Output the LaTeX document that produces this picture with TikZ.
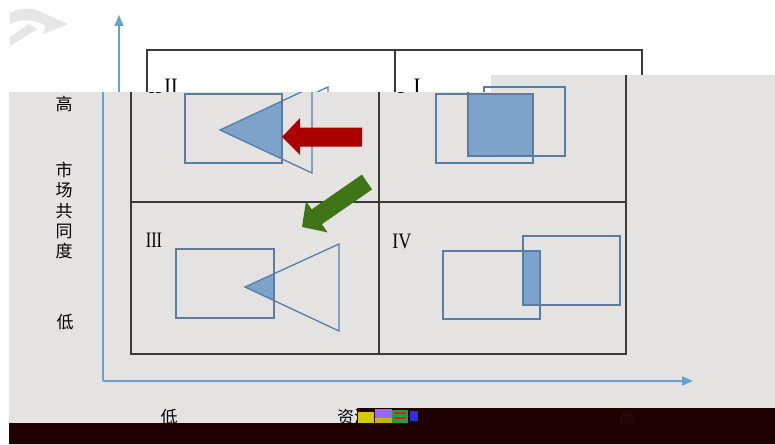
\documentclass[tikz,border=0pt]{standalone}
\usepackage{graphicx}
\usepackage{fontspec}
\newfontfamily\cjk{Noto Sans CJK SC}
\newfontfamily\romanfont{Liberation Serif}
\usetikzlibrary{arrows.meta}
\definecolor{bggrey}{HTML}{E4E3E2}
\definecolor{darkband}{HTML}{1E0000}
\definecolor{gridc}{HTML}{3A3A3A}
\definecolor{axisc}{HTML}{6A9FD3}
\definecolor{shapec}{HTML}{5A7DA5}
\definecolor{fillc}{HTML}{7DA3CA}
\definecolor{redarrow}{HTML}{AA0000}
\definecolor{greenarrow}{HTML}{3F7417}
\definecolor{logoc}{HTML}{E6E6E6}
\definecolor{fainttext}{HTML}{2E0B0B}
\definecolor{glyellow}{HTML}{D8C800}
\definecolor{glpurple}{HTML}{9966FF}
\definecolor{glochre}{HTML}{C8B400}
\definecolor{glgreen}{HTML}{1FA040}
\definecolor{glred}{HTML}{E02020}
\definecolor{glblue}{HTML}{3030E0}
\tikzset{
  gridline/.style={draw=gridc, line width=1.6pt},
  axisline/.style={draw=axisc, line width=1.5pt, -{Triangle[width=9pt,length=11pt]}},
  shapeline/.style={draw=shapec, line width=1.3pt, line join=miter},
  overlapfill/.style={fill=fillc},
  roman/.style={font=\romanfont\fontsize{22}{22}\selectfont, text=black, inner sep=0pt},
  cjklabel/.style={font=\cjk\fontsize{17}{20.3}\selectfont, text=black, inner sep=0pt, align=center},
}
\newcommand\quaddiagram{%
  \coordinate (G1) at (131,50); \coordinate (G2) at (626,354);
  \coordinate (MT) at (379,50); \coordinate (MB) at (379,354);
  \coordinate (ML) at (131,202); \coordinate (MR) at (626,202);
  \draw[gridline] (G1) rectangle (G2);
  \draw[gridline] (MT) -- (MB);
  \draw[gridline] (ML) -- (MR);
  \coordinate (O) at (103,381); \coordinate (YT) at (103,15); \coordinate (XT) at (693,381);
  \draw[axisline] (O) -- (YT);
  \draw[axisline] (O) -- (XT);
  % quadrant II
  \begin{scope}
    \clip (185,94) rectangle (282,163);
    \fill[overlapfill] (220,130) -- (312,87) -- (312,173) -- cycle;
  \end{scope}
  \draw[shapeline] (185,94) rectangle (282,163);
  \draw[shapeline] (220,130) -- (312,87) -- (312,173) -- cycle;
  % quadrant I
  \fill[overlapfill] (468,94) rectangle (533,156);
  \draw[shapeline] (436,94) rectangle (533,163);
  \draw[shapeline] (468,87) rectangle (565,156);
  % quadrant III
  \begin{scope}
    \clip (176,249) rectangle (274,318);
    \fill[overlapfill] (245,287) -- (339,244) -- (339,331) -- cycle;
  \end{scope}
  \draw[shapeline] (176,249) rectangle (274,318);
  \draw[shapeline] (245,287) -- (339,244) -- (339,331) -- cycle;
  % quadrant IV
  \fill[overlapfill] (523,251) rectangle (540,305);
  \draw[shapeline] (443,251) rectangle (540,319);
  \draw[shapeline] (523,236) rectangle (620,305);
  % roman numerals of the upper quadrants
  \node[roman] (q2) at (155,86.5) {\scalebox{0.9}[1]{II}};
  \node[roman] (q1) at (401,86.5) {I};
  % red arrow
  \fill[redarrow] (282,137) -- (300,118) -- (300,127.5) -- (362,127.5) -- (362,146.5) -- (300,146.5) -- (300,155) -- cycle;
  % green arrow
  \fill[greenarrow] (302,227) -- (306,201.2) -- (311.7,209.4) -- (361.9,174.6) -- (372.1,189.4) -- (321.9,224.2) -- (327.6,232.4) -- cycle;
}
\begin{document}
\begin{tikzpicture}[x=1pt,y=-1pt]
  \useasboundingbox (0,0) rectangle (775,444);
  \fill[white] (0,0) rectangle (775,444);
  % logo
  \fill[logoc] (10,13) .. controls (18,9) and (26,8) .. (34,9) -- (68,24) -- (43,34) -- (46,26) .. controls (38,21) and (28,19) .. (18,21) -- (10,24) -- cycle;
  \fill[logoc] (10,46) -- (10,37) -- (29,24) -- (37,29) -- cycle;
  % shifted copy in the white region
  \begin{scope}
    \clip (0,0) -- (775,0) -- (775,75) -- (491,75) -- (491,92) -- (0,92) -- cycle;
    \begin{scope}[shift={(16,0)}]
      \quaddiagram
    \end{scope}
  \end{scope}
  % grey panel
  \fill[bggrey] (9,92) -- (491,92) -- (491,75) -- (775,75) -- (775,444) -- (9,444) -- cycle;
  \begin{scope}
    \clip (9,92) -- (491,92) -- (491,75) -- (775,75) -- (775,444) -- (9,444) -- cycle;
    \quaddiagram
  \end{scope}
  % roman numerals of the lower quadrants
  \node[roman] (q3) at (154,240.5) {\scalebox{0.74}[1]{III}};
  \node[roman] (q4) at (402,241) {\scalebox{0.82}[1]{IV}};
  % axis labels
  \node[cjklabel] (yhigh) at (64,104) {高};
  \node[cjklabel] (ytitle) at (64,210.5) {市\\场\\共\\同\\度};
  \node[cjklabel] (ylow) at (65,322) {低};
  \node[cjklabel] (xlow) at (169,417) {低};
  \node[cjklabel, anchor=west] (xtitle) at (337,417) {资源共同度};
  % dark band
  \fill[darkband] (9,423) -- (357,423) -- (357,408) -- (775,408) -- (775,444) -- (9,444) -- cycle;
  \node[cjklabel, text=fainttext] (xhigh) at (627,417) {高};
  % glitch blocks
  \fill[glyellow] (358,412) rectangle (374,423);
  \fill[glpurple] (375,409) rectangle (392,418);
  \fill[glochre] (375,418) rectangle (392,423);
  \fill[glgreen] (392,410) rectangle (408,423);
  \fill[glred] (394,412) rectangle (406,414);
  \fill[glred] (394,417) rectangle (406,419);
  \fill[glblue] (410,411) rectangle (418,421);
\end{tikzpicture}
\end{document}
